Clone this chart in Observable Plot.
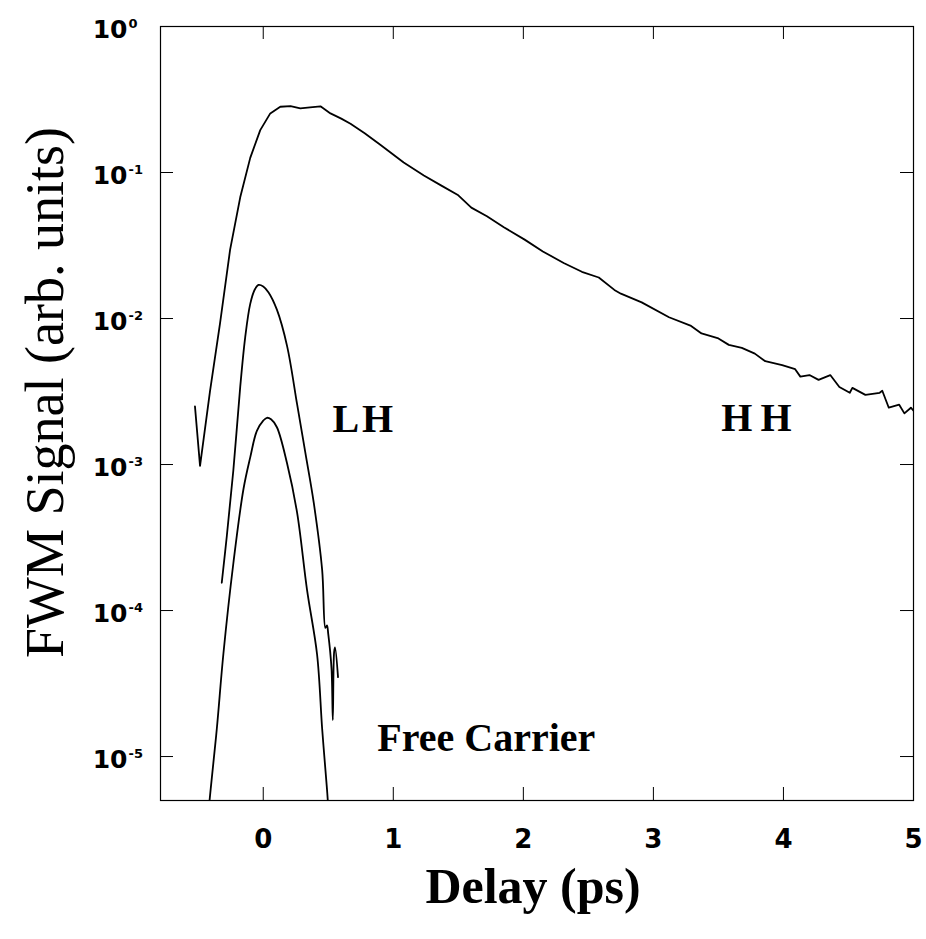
<!DOCTYPE html>
<html><head><meta charset="utf-8">
<script src="https://cdn.jsdelivr.net/npm/d3@7"></script>
<script src="https://cdn.jsdelivr.net/npm/@observablehq/plot@0.6"></script>
<style>body{margin:0;background:#fff}</style>
</head><body><div id="chart"></div>
<script>
// Heavy-hole (HH) FWM trace
const hhDelay = [-0.525,-0.486,-0.409,-0.332,-0.255,-0.177,-0.100,-0.023,0.054,0.131,0.21,0.285,0.36,0.44,0.517,0.60,0.671,0.78,0.90,1.08,1.235,1.37,1.50,1.60,1.72,1.85,2.01,2.15,2.31,2.45,2.58,2.70,2.75,2.91,3.12,3.29,3.37,3.50,3.58,3.68,3.78,3.86,3.99,4.09,4.13,4.20,4.27,4.36,4.43,4.51,4.53,4.63,4.74,4.76,4.81,4.89,4.93,4.98,5.0];
const hhSignal = [2.5e-3,9.8e-4,3.2e-3,9.3e-3,0.0295,0.0676,0.126,0.195,0.254,0.282,0.285,0.275,0.279,0.284,0.254,0.234,0.216,0.186,0.155,0.117,0.0955,0.0813,0.0698,0.0575,0.0501,0.0422,0.0347,0.0288,0.0240,0.0209,0.0191,0.0157,0.0148,0.0129,0.0102,8.9e-3,7.9e-3,7.3e-3,6.6e-3,6.3e-3,5.75e-3,5.1e-3,4.8e-3,4.5e-3,4.0e-3,4.1e-3,3.8e-3,4.1e-3,3.4e-3,3.1e-3,3.35e-3,3.0e-3,3.1e-3,3.2e-3,2.45e-3,2.57e-3,2.24e-3,2.45e-3,2.34e-3];
// Light-hole (LH) FWM trace
const lhDelay = [-0.319,-0.28,-0.23,-0.177,-0.139,-0.10,-0.065,-0.036,0.0,0.041,0.105,0.183,0.26,0.324,0.388,0.453,0.478,0.49,0.50,0.525,0.535,0.545,0.552,0.575];
const lhSignal = [1.55e-4,3.24e-4,9.1e-4,3.4e-3,7.4e-3,0.0126,0.0158,0.0170,0.0166,0.0151,0.0115,6.5e-3,2.6e-3,1.2e-3,5.5e-4,1.9e-4,7.6e-5,7.9e-5,6.9e-5,4.0e-5,1.78e-5,5.2e-5,5.6e-5,3.5e-5];
// Free-carrier FWM trace
const fcDelay = [-0.43,-0.404,-0.357,-0.306,-0.23,-0.152,-0.10,-0.049,0.0,0.028,0.06,0.105,0.183,0.26,0.337,0.414,0.453,0.49,0.50];
const fcSignal = [3.5e-6,6.0e-6,1.55e-5,5.1e-5,2.1e-4,6.8e-4,1.12e-3,1.70e-3,2.0e-3,2.09e-3,2.04e-3,1.80e-3,1.02e-3,4.7e-4,1.38e-4,5.0e-5,1.55e-5,6.0e-6,4.5e-6];

const xTicks = [0,1,2,3,4,5];
const yTicks = [1,1e-1,1e-2,1e-3,1e-4,1e-5];
const yTickBase = ["10","10","10","10","10","10"];
const yTickExp = ["0","-1","-2","-3","-4","-5"];

const labels = ["LH","HH","Free Carrier"];
const labelDelay = [0.777,3.823,1.715];
const labelSignal = [1.68e-3,1.71e-3,1.10e-5];

const zip = (xs, ys) => xs.map((x,i)=>({x, y: ys[i]}));
const hh = zip(hhDelay, hhSignal), lh = zip(lhDelay, lhSignal), fc = zip(fcDelay, fcSignal);
const ann = labels.map((t,i)=>({t, x: labelDelay[i], y: labelSignal[i]}));

const W = 926, H = 939, mL = 160, mR = 13, mT = 26, mB = 139;
const innerW = W - mL - mR, innerH = H - mT - mB, tl = 13;
const sans = "DejaVu Sans, Verdana, sans-serif";
const serif = "Liberation Serif, Times New Roman, serif";

const chart = Plot.plot({
  width: W, height: H, marginLeft: mL, marginRight: mR, marginTop: mT, marginBottom: mB,
  style: {background: "#fff"},
  x: {domain: [-0.79, 5], axis: null},
  y: {type: "log", domain: [5e-6, 1], axis: null},
  marks: [
    Plot.frame({stroke: "#000", strokeWidth: 1.2}),
    Plot.tickX(xTicks, {x: d=>d, insetTop: innerH - tl, stroke: "#000"}),
    Plot.tickX(xTicks, {x: d=>d, insetBottom: innerH - tl, stroke: "#000"}),
    Plot.tickY(yTicks, {y: d=>d, insetRight: innerW - tl, stroke: "#000"}),
    Plot.tickY(yTicks, {y: d=>d, insetLeft: innerW - tl, stroke: "#000"}),
    Plot.text(yTicks, {y: d=>d, text: (d,i)=>yTickBase[i], frameAnchor: "left", textAnchor: "end", lineAnchor: "bottom", dx: -33, dy: 11, fontSize: 25, fontWeight: "bold", fontFamily: sans, fill: "#000"}),
    Plot.text(yTicks, {y: d=>d, text: (d,i)=>yTickExp[i], frameAnchor: "left", textAnchor: "start", lineAnchor: "bottom", dx: -32, dy: 1, fontSize: 13, fontWeight: "bold", fontFamily: sans, fill: "#000"}),
    Plot.text(xTicks, {x: d=>d, text: d=>String(d), frameAnchor: "bottom", lineAnchor: "bottom", dy: 47, fontSize: 26, fontWeight: "bold", fontFamily: sans, fill: "#000"}),
    Plot.text(["Delay (ps)"], {frameAnchor: "bottom", textAnchor: "middle", lineAnchor: "bottom", dx: -4, dy: 102, fontSize: 50, fontWeight: "bold", fontFamily: serif, fill: "#000"}),
    Plot.text(["FWM Signal (arb. units)"], {frameAnchor: "left", textAnchor: "middle", lineAnchor: "middle", rotate: -90, dx: -115, dy: -21, fontSize: 54, fontFamily: serif, fill: "#000"}),
    Plot.line(hh, {x: "x", y: "y", stroke: "#000", strokeWidth: 1.8, clip: true}),
    Plot.line(lh, {x: "x", y: "y", stroke: "#000", strokeWidth: 1.8, curve: "catmull-rom", clip: true}),
    Plot.line(fc, {x: "x", y: "y", stroke: "#000", strokeWidth: 1.8, curve: "catmull-rom", clip: true}),
    Plot.text(ann, {x: "x", y: "y", text: "t", lineAnchor: "bottom", fontSize: 40, fontWeight: "bold", fontFamily: serif, fill: "#000"})
  ]
});
document.getElementById("chart").appendChild(chart);
d3.select(chart).selectAll("text").filter(function(){ return this.textContent === "HH"; }).attr("letter-spacing", "8px");
d3.select(chart).selectAll("text").filter(function(){ return this.textContent === "LH"; }).attr("letter-spacing", "3px");
</script>
</body></html>
